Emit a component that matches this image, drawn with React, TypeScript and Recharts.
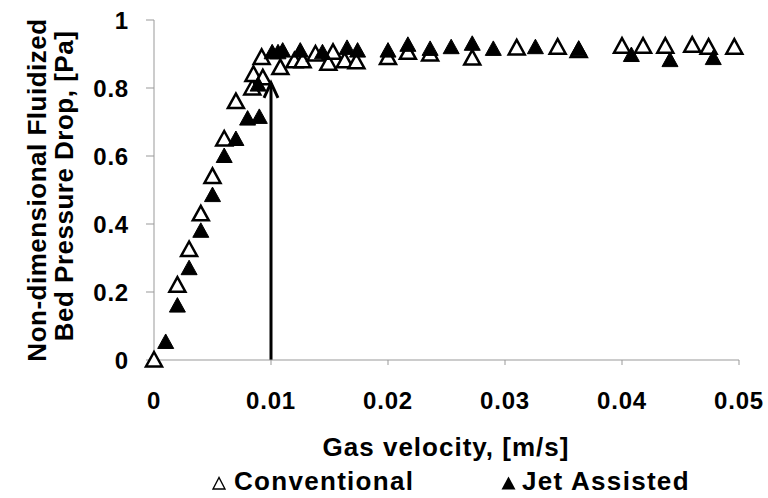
import React from 'react';
import { ScatterChart, Scatter, XAxis, YAxis, ReferenceLine, ReferenceDot } from 'recharts';

// Conventional bed (open triangles)
const convVelocity = [
  0, 0.002, 0.003, 0.004, 0.005, 0.006, 0.007, 0.0084, 0.0085, 0.0092, 0.0093, 0.0108, 0.012, 0.0127,
  0.0138, 0.0149, 0.0153, 0.0163, 0.0173, 0.02, 0.0217, 0.0236, 0.0272, 0.031, 0.0345, 0.0363, 0.04,
  0.0418, 0.0437, 0.046, 0.0474, 0.0496,
];
const convDrop = [
  0, 0.22, 0.325, 0.43, 0.54, 0.65, 0.76, 0.8, 0.84, 0.89, 0.83, 0.86, 0.88, 0.88,
  0.9, 0.873, 0.905, 0.88, 0.877, 0.89, 0.905, 0.9, 0.888, 0.918, 0.92, 0.91, 0.923,
  0.923, 0.923, 0.926, 0.92, 0.92,
];

// Jet assisted bed (filled triangles)
const jetVelocity = [
  0.001, 0.002, 0.003, 0.004, 0.005, 0.006, 0.007, 0.008, 0.009, 0.0089, 0.0101, 0.0106, 0.011, 0.0125,
  0.0144, 0.0165, 0.0174, 0.02, 0.0217, 0.0236, 0.0254, 0.0272, 0.029, 0.0326, 0.0363, 0.0408, 0.0441, 0.0478,
];
const jetDrop = [
  0.053, 0.16, 0.27, 0.38, 0.485, 0.6, 0.65, 0.71, 0.715, 0.81, 0.905, 0.905, 0.91, 0.91,
  0.905, 0.918, 0.91, 0.91, 0.927, 0.915, 0.92, 0.93, 0.915, 0.92, 0.915, 0.897, 0.882, 0.888,
];

const xTicks = [0, 0.01, 0.02, 0.03, 0.04, 0.05];
const yTicks = [0, 0.2, 0.4, 0.6, 0.8, 1];

// arrow marking minimum fluidization velocity
const arrowX = 0.01;
const arrowTop = 0.815;

const conventional = convVelocity.map((x, i) => ({ x, y: convDrop[i] }));
const jetAssisted = jetVelocity.map((x, i) => ({ x, y: jetDrop[i] }));

const FONT = '"Liberation Sans", Arial, sans-serif';

const tri = (cx: number, cy: number) =>
  `M${cx},${cy - 8} L${cx - 8},${cy + 6.5} L${cx + 8},${cy + 6.5} Z`;

const OpenTriangle = (props: any) => (
  <path d={tri(props.cx, props.cy)} fill="#fff" stroke="#000" strokeWidth={2.5} strokeLinejoin="miter" />
);

const FilledTriangle = (props: any) => (
  <path d={tri(props.cx, props.cy)} fill="#000" stroke="#000" strokeWidth={1} />
);

const ArrowHead = (props: any) => (
  <path
    d={`M${props.cx - 7},${props.cy + 15} L${props.cx},${props.cy} L${props.cx + 7},${props.cy + 15}`}
    fill="none"
    stroke="#000"
    strokeWidth={3}
  />
);

const YTitle = () => (
  <g fontFamily={FONT} fontWeight="bold" fontSize={26} fill="#000" letterSpacing={0.5}>
    <text transform="translate(46,190) rotate(-90)" textAnchor="middle">
      Non-dimensional Fluidized
    </text>
    <text transform="translate(73,186) rotate(-90)" textAnchor="middle">
      Bed Pressure Drop, [Pa]
    </text>
  </g>
);

const XTitle = () => (
  <text x={446} y={456} textAnchor="middle" fontFamily={FONT} fontWeight="bold" fontSize={26} letterSpacing={1} fill="#000">
    Gas velocity, [m/s]
  </text>
);

const tickStyle = { fill: '#000', fontSize: 24, fontWeight: 'bold', fontFamily: FONT, letterSpacing: 0.8 };

const legendText: React.CSSProperties = {
  fontFamily: FONT,
  fontWeight: 'bold',
  fontSize: 26,
  letterSpacing: 1.3,
  position: 'absolute',
  top: 467,
  lineHeight: '28px',
  whiteSpace: 'nowrap',
};

export default function App() {
  return (
    <div style={{ position: 'absolute', left: 0, top: 0, width: 768, height: 498, background: '#fff', overflow: 'hidden' }}>
      <ScatterChart width={768} height={498} margin={{ top: 20, right: 29, bottom: 88, left: 0 }}>
        <XAxis
          type="number"
          dataKey="x"
          domain={[0, 0.05]}
          ticks={xTicks}
          height={50}
          tickSize={5}
          tickMargin={27}
          tick={tickStyle}
          stroke="#999"
          label={<XTitle />}
        />
        <YAxis
          type="number"
          dataKey="y"
          domain={[0, 1]}
          ticks={yTicks}
          width={154}
          tickSize={8}
          tickMargin={17}
          tick={tickStyle}
          stroke="#999"
          label={<YTitle />}
        />
        <ReferenceLine
          segment={[{ x: arrowX, y: 0 }, { x: arrowX, y: arrowTop }]}
          stroke="#000"
          strokeWidth={3}
        />
        <ReferenceDot x={arrowX} y={arrowTop} shape={<ArrowHead />} />
        <Scatter data={conventional} shape={<OpenTriangle />} isAnimationActive={false} />
        <Scatter data={jetAssisted} shape={<FilledTriangle />} isAnimationActive={false} />
      </ScatterChart>
      <div style={{ ...legendText, left: 212 }}>
        <svg width={14} height={14} style={{ marginRight: 8, verticalAlign: 'baseline' }}>
          <path d="M7,1.5 L1,13 L13,13 Z" fill="#fff" stroke="#000" strokeWidth={1.4} />
        </svg>
        Conventional
      </div>
      <div style={{ ...legendText, left: 501 }}>
        <svg width={15} height={14} style={{ marginRight: 6, verticalAlign: 'baseline' }}>
          <path d="M7.5,0.5 L0.5,13.5 L14.5,13.5 Z" fill="#000" />
        </svg>
        Jet Assisted
      </div>
    </div>
  );
}
